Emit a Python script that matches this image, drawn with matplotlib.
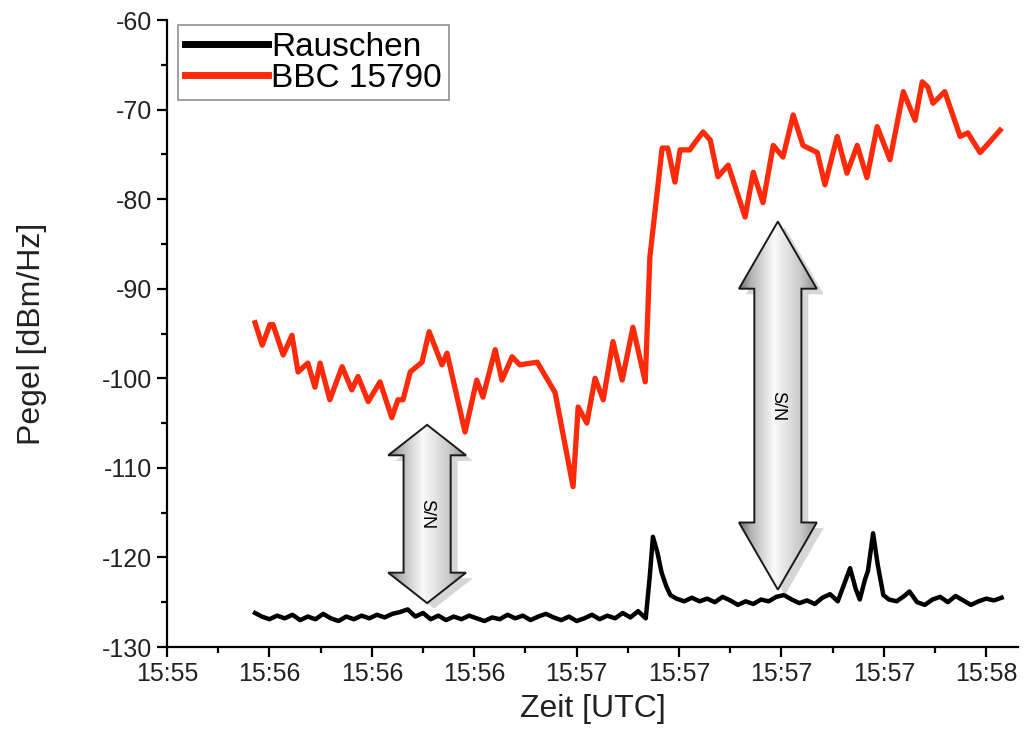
import matplotlib
matplotlib.use("Agg")
import matplotlib.pyplot as plt
import matplotlib.patheffects as pe
from matplotlib.patches import Polygon
from matplotlib.ticker import MultipleLocator
import numpy as np

plt.rcParams["font.family"] = ["Liberation Sans", "DejaVu Sans"]
plt.rcParams["axes.unicode_minus"] = False

# --------------------------------------------------------------------------- #
# data (time in seconds from the first tick, level in dBm/Hz)
# --------------------------------------------------------------------------- #
tick_pos = [0, 20, 40, 60, 80, 100, 120, 140, 160]
tick_labels = ["15:55", "15:56", "15:56", "15:56", "15:57",
               "15:57", "15:57", "15:57", "15:58"]

bbc_t = [17.2, 18.6, 20.1, 20.7, 22.7, 24.4, 25.6, 27.5, 28.9, 29.9,
         31.8, 34.2, 36.1, 37.3, 39.3, 41.6, 43.9, 45.1, 46.1, 47.5,
         49.8, 51.2, 53.7, 54.7, 58.2, 60.5, 61.7, 64.1, 65.4, 67.4,
         68.9, 72.3, 75.8, 79.3, 80.3, 82.0, 83.6, 85.2, 87.1, 88.9,
         91.0, 93.4, 94.3, 96.7, 97.8, 99.2, 100.2, 102.1, 103.1, 104.7,
         106.1, 107.6, 109.6, 112.9, 114.5, 116.4, 118.4, 120.3, 122.3, 124.2,
         127.0, 128.5, 130.9, 132.8, 134.8, 136.7, 138.7, 141.2, 143.8, 146.1,
         147.5, 148.6, 149.6, 151.9, 154.9, 156.4, 158.8, 160.7, 162.7]
bbc_db = [-93.8, -96.3, -94.0, -94.0, -97.4, -95.2, -99.3, -98.3, -101.0, -98.3,
          -102.4, -98.7, -101.3, -99.8, -102.6, -100.4, -104.4, -102.4, -102.4, -99.3,
          -98.2, -94.8, -98.5, -97.2, -106.0, -100.2, -102.1, -96.8, -100.2, -97.6,
          -98.5, -98.2, -101.6, -112.1, -103.2, -105.0, -100.0, -102.4, -95.9, -100.2,
          -94.3, -100.4, -86.5, -74.3, -74.3, -78.1, -74.5, -74.5, -73.7, -72.5,
          -73.4, -77.5, -76.2, -82.0, -77.0, -80.4, -74.0, -75.3, -70.6, -74.0,
          -74.8, -78.4, -73.0, -77.1, -74.0, -77.6, -71.9, -75.6, -68.0, -71.2,
          -66.9, -67.5, -69.3, -68.0, -73.0, -72.6, -74.8, -73.6, -72.3]

noise_t = [17.2, 18.5, 20.0, 21.5, 23.0, 24.5, 26.0, 27.5, 29.0, 30.5,
           32.0, 33.5, 35.0, 36.5, 38.0, 39.5, 41.0, 42.5, 44.0, 45.5,
           47.0, 48.5, 50.0, 51.5, 53.0, 54.5, 56.0, 57.5, 59.0, 60.5,
           62.0, 63.5, 65.0, 66.5, 68.0, 69.5, 71.0, 72.5, 74.0, 75.5,
           77.0, 78.5, 80.0, 81.5, 83.0, 84.5, 86.0, 87.5, 89.0, 90.5,
           92.0, 93.5, 94.3, 94.9, 95.8, 96.6, 97.5, 98.3, 99.5, 101.0,
           102.5, 104.0, 105.5, 107.0, 108.5, 110.0, 111.5, 113.0, 114.5, 116.0,
           117.5, 119.0, 120.5, 122.0, 123.5, 125.0, 126.5, 128.0, 129.5, 131.0,
           132.5, 133.4, 134.5, 135.3, 136.3, 136.9, 137.9, 138.8, 139.9, 141.0,
           142.5, 144.0, 145.0, 146.5, 148.0, 149.5, 151.0, 152.5, 154.0, 155.5,
           157.0, 158.5, 160.0, 161.5, 163.0]
noise_db = [-126.2, -126.6, -126.9, -126.5, -126.8, -126.4, -127.0, -126.6, -126.9, -126.3,
            -126.8, -127.1, -126.6, -126.9, -126.5, -126.8, -126.4, -126.7, -126.3, -126.1,
            -125.8, -126.6, -126.2, -126.9, -126.5, -127.0, -126.6, -126.9, -126.5, -126.8,
            -127.1, -126.7, -126.9, -126.4, -126.8, -126.5, -127.0, -126.6, -126.3, -126.7,
            -127.0, -126.6, -127.1, -126.8, -126.4, -126.9, -126.5, -126.8, -126.2, -126.7,
            -126.0, -126.8, -122.0, -117.7, -119.5, -121.7, -123.2, -124.2, -124.6, -124.9,
            -124.5, -124.9, -124.6, -125.0, -124.4, -124.8, -125.3, -124.9, -125.2, -124.7,
            -124.9, -124.4, -124.2, -124.7, -125.1, -124.8, -125.2, -124.5, -124.1, -124.9,
            -122.6, -121.2, -123.5, -124.7, -122.5, -121.5, -117.3, -120.8, -124.2, -124.7,
            -124.9, -124.3, -123.8, -125.0, -125.3, -124.7, -124.4, -125.0, -124.3, -124.8,
            -125.3, -124.9, -124.6, -124.8, -124.5]

# S/N annotation arrows: (centre t, top dB, bottom dB, head length dB)
sn_small = (50.8, -105.2, -125.1, 3.4)
sn_big = (119.3, -82.5, -123.6, 7.5)


def _sn_arrow(ax, cx, y_top, y_bot, head_len, shaft_w=9.2, head_w=15.2):
    pts = [(cx, y_top), (cx + head_w / 2, y_top - head_len),
           (cx + shaft_w / 2, y_top - head_len), (cx + shaft_w / 2, y_bot + head_len),
           (cx + head_w / 2, y_bot + head_len), (cx, y_bot),
           (cx - head_w / 2, y_bot + head_len), (cx - shaft_w / 2, y_bot + head_len),
           (cx - shaft_w / 2, y_top - head_len), (cx - head_w / 2, y_top - head_len)]
    shadow = Polygon(pts, closed=True, facecolor="none", edgecolor="none", zorder=3)
    shadow.set_path_effects([pe.SimplePatchShadow(offset=(5, -4), shadow_rgbFace="0.55", alpha=0.35)])
    ax.add_patch(shadow)
    poly = Polygon(pts, closed=True, facecolor="none", edgecolor="0.1",
                   linewidth=1.4, zorder=5)
    ax.add_patch(poly)
    prof = np.interp(np.linspace(0, 1, 256), [0, 0.15, 0.45, 0.8, 1],
                     [0.42, 0.7, 0.98, 0.78, 0.55])
    img = ax.imshow(np.vstack([prof, prof]), cmap="gray", vmin=0, vmax=1,
                    extent=(cx - head_w / 2, cx + head_w / 2, y_bot, y_top),
                    aspect="auto", interpolation="bilinear", zorder=4)
    img.set_clip_path(poly)
    ax.text(cx, (y_top + y_bot) / 2, "S/N", rotation=270, ha="center",
            va="center", fontsize=13, color="black", zorder=6)


fig = plt.figure(figsize=(10.24, 7.42), dpi=100)
ax = fig.add_axes([167 / 1024, 1 - 647 / 742, (1018 - 167) / 1024, (647 - 20) / 742])

ax.plot(noise_t, noise_db, color="black", linewidth=3.2, label="Rauschen",
        solid_joinstyle="round", zorder=2)
ax.plot(bbc_t, bbc_db, color="#ff2a0a", linewidth=3.8, label="BBC 15790",
        solid_joinstyle="round", zorder=2)

_sn_arrow(ax, *sn_small)
_sn_arrow(ax, *sn_big)

ax.set_xlim(0, 166.2)
ax.set_ylim(-130, -60)
ax.set_xticks(tick_pos)
ax.set_xticklabels(tick_labels)
ax.xaxis.set_minor_locator(MultipleLocator(10))
ax.yaxis.set_major_locator(MultipleLocator(10))
ax.yaxis.set_minor_locator(MultipleLocator(5))

for side in ("top", "right"):
    ax.spines[side].set_visible(False)
for side in ("left", "bottom"):
    ax.spines[side].set_linewidth(1.6)
ax.tick_params(which="major", direction="out", length=7, width=1.6,
               labelsize=18, colors="black")
ax.tick_params(which="minor", direction="out", length=4, width=1.6)
for lab in ax.get_xticklabels() + ax.get_yticklabels():
    lab.set_color("#222222")

ax.set_xlabel("Zeit [UTC]", fontsize=23, color="#222222", labelpad=6)
ax.set_ylabel("Pegel [dBm/Hz]", fontsize=23, color="#222222", labelpad=40)

leg = ax.legend(loc="upper left", bbox_to_anchor=(0.013, 0.992), fontsize=24,
                frameon=True, fancybox=False, handlelength=2.5, handletextpad=0.1,
                borderpad=0.2, labelspacing=0.0, borderaxespad=0)
leg.get_frame().set_edgecolor("0.45")
leg.get_frame().set_linewidth(1.2)
for line in leg.get_lines():
    line.set_linewidth(5)

fig.savefig("out.png", dpi=100)
